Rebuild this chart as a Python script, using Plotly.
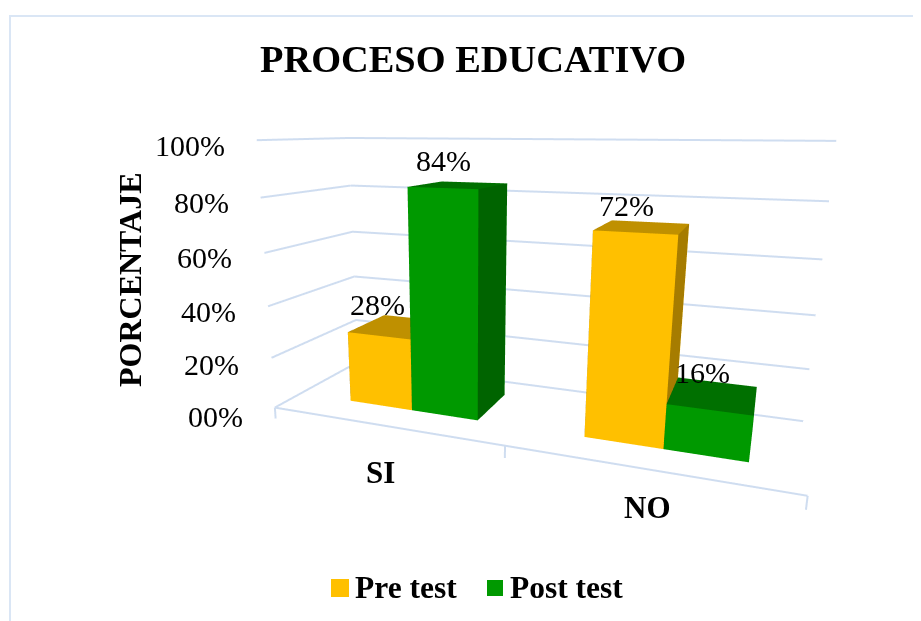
import plotly.graph_objects as go

categories = ["SI", "NO"]
series_names = ["Pre test", "Post test"]
pre_test = [28, 72]
post_test = [84, 16]
z_ticks = [0, 20, 40, 60, 80, 100]
z_labels = ["00%", "20%", "40%", "60%", "80%", "100%"]

Z_LOW, Z_HIGH = -5, 102
BAR_START, BAR_WIDTH, DEPTH_FRONT, DEPTH_BACK = 0.246, 0.287, 0.282, 0.755
TICK_DOWN = -4.5
GRID = "#CFDDF0"
serif = "Liberation Serif"
values = [pre_test, post_test]


def box(a0, a1, b0, b1, c0, c1):
    return ([a0, a1, a1, a0, a0, a1, a1, a0],
            [b0, b0, b1, b1, b0, b0, b1, b1],
            [c0, c0, c0, c0, c1, c1, c1, c1])


I = [0, 0, 4, 4, 0, 0, 1, 1, 3, 3, 0, 0]
J = [1, 2, 5, 6, 1, 5, 2, 6, 2, 6, 3, 7]
K = [2, 3, 6, 7, 5, 4, 6, 5, 6, 7, 7, 4]


def series(vals, off, name, front, top, side):
    X, Y, Z, i, j, k, fc = [], [], [], [], [], [], []
    for n, v in enumerate(vals):
        a, b, c = box(n + BAR_START + off * BAR_WIDTH, n + BAR_START + (off + 1) * BAR_WIDTH,
                      DEPTH_FRONT, DEPTH_BACK, 0, v)
        base = len(X)
        X += a; Y += b; Z += c
        i += [q + base for q in I]
        j += [q + base for q in J]
        k += [q + base for q in K]
        fc += [front, front, top, top, front, front, side, side, front, front, side, side]
    return go.Mesh3d(x=X, y=Y, z=Z, i=i, j=j, k=k, facecolor=fc, color=front, name=name,
                     showlegend=False, flatshading=True, hoverinfo="skip",
                     lighting=dict(ambient=1, diffuse=0, specular=0, fresnel=0, roughness=1))


lx, ly, lz = [], [], []
for t in z_ticks:
    lx += [0, 0, len(categories), None]
    ly += [0, 1, 1, None]
    lz += [t, t, t, None]
lx += [0, len(categories), None]; ly += [0, 0, None]; lz += [0, 0, None]
for c in range(len(categories) + 1):
    lx += [c, c, None]; ly += [0, 0, None]; lz += [0, TICK_DOWN, None]
grid = go.Scatter3d(x=lx, y=ly, z=lz, mode="lines", line=dict(color=GRID, width=4),
                    showlegend=False, hoverinfo="skip")

fig = go.Figure([grid,
                 series(pre_test, 0, series_names[0], "#FFC000", "#BF9000", "#A67C00"),
                 series(post_test, 1, series_names[1], "#009900", "#007000", "#006400")])


def px(v):
    return (v - 8) / 921


def py(v):
    return 1 - (v - 8) / 621


ann = []
tick_dy = [-9, -7, -5, -5, -5, -5]
for t, l, dy in zip(z_ticks, z_labels, tick_dy):
    ann.append(dict(x=0, y=0, z=t, text=l, showarrow=False, xanchor="right", xshift=-30, yshift=dy,
                    font=dict(family=serif, size=30, color="#000")))
cat_dx, cat_dy = [-2, 2], [-47, -39]
for n, c in enumerate(categories):
    ann.append(dict(x=n + .5, y=0, z=0, text=c, showarrow=False, xshift=cat_dx[n], yshift=cat_dy[n],
                    font=dict(family=serif, size=31, color="#000", weight="bold")))
lab_dx = [[-1, -8], [1, -7]]
lab_dy = [[31, 27], [28, 37]]
for off, vals in enumerate(values):
    for n, v in enumerate(vals):
        ann.append(dict(x=n + BAR_START + (off + .5) * BAR_WIDTH, y=DEPTH_FRONT, z=v, text=f"{v}%",
                        showarrow=False, xshift=lab_dx[off][n], yshift=lab_dy[off][n],
                        font=dict(family=serif, size=30, color="#000")))

hid = dict(visible=False)
fig.update_layout(
    width=921, height=621, margin=dict(l=0, r=0, t=0, b=0), paper_bgcolor="white",
    font=dict(family=serif), showlegend=False,
    scene=dict(
        domain=dict(x=[0, 1], y=[0, 1]),
        aspectmode="manual", aspectratio=dict(x=1.726, y=0.571, z=0.9844),
        camera=dict(eye=dict(x=0.716, y=-2.33, z=0.5138), center=dict(x=-0.176, y=-0.156, z=-0.0852),
                    up=dict(x=0, y=0, z=1), projection=dict(type="perspective")),
        dragmode=False, annotations=ann,
        xaxis=dict(range=[0, len(categories)], **hid),
        yaxis=dict(range=[0, 1], **hid),
        zaxis=dict(range=[Z_LOW, Z_HIGH], **hid)),
    shapes=[
        dict(type="rect", xref="paper", yref="paper", x0=px(10), x1=1.05, y0=-.05, y1=py(16),
             line=dict(color="#DAE6F5", width=2)),
        dict(type="rect", xref="paper", yref="paper", x0=px(331), x1=px(349), y0=py(597), y1=py(579),
             fillcolor="#FFC000", line=dict(width=0)),
        dict(type="rect", xref="paper", yref="paper", x0=px(487), x1=px(503), y0=py(596), y1=py(580),
             fillcolor="#009900", line=dict(width=0))],
)


def note(text, x, y, size, **kw):
    fig.add_annotation(text=text, xref="paper", yref="paper", x=px(x), y=py(y), showarrow=False,
                       font=dict(family=serif, size=size, color="#000"), **kw)


note("<b>PROCESO EDUCATIVO</b>", 473, 59, 38.4, xanchor="center", yanchor="middle")
note("<b>PORCENTAJE</b>", 130, 280, 32, textangle=-90, xanchor="center", yanchor="middle")
note(f"<b>{series_names[0]}</b>", 353, 587, 31.5, xanchor="left", yanchor="middle")
note(f"<b>{series_names[1]}</b>", 508, 587, 31.5, xanchor="left", yanchor="middle")
fig.write_html("out.html")
